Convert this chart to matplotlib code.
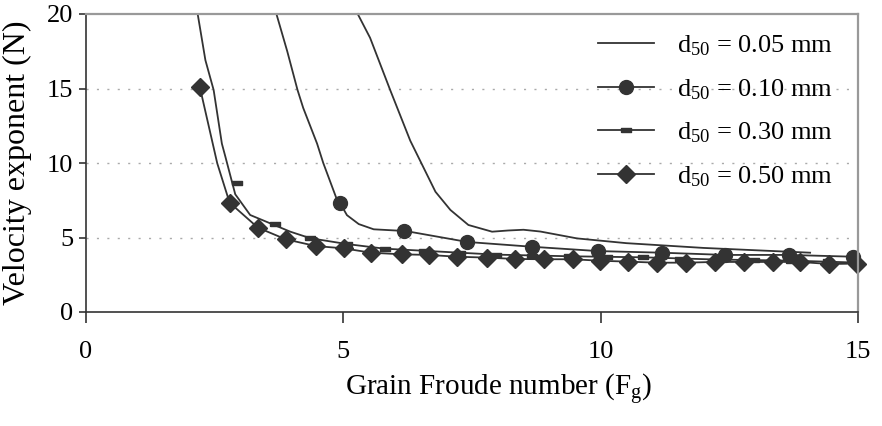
import matplotlib.pyplot as plt
from matplotlib.lines import Line2D

plt.rcParams['font.family'] = ['Liberation Serif', 'DejaVu Serif']
plt.rcParams['mathtext.fontset'] = 'custom'
plt.rcParams['mathtext.rm'] = 'Liberation Serif'
plt.rcParams['mathtext.it'] = 'Liberation Serif'
plt.rcParams['mathtext.default'] = 'rm'

# d50 = 0.05 mm (line only)
x05 = [5.28, 5.52, 5.91, 6.30, 6.79, 7.08, 7.43, 7.89, 8.20, 8.50, 8.83, 9.54, 10.50, 12.00, 14.07]
y05 = [20.0, 18.4, 14.9, 11.5, 8.07, 6.85, 5.84, 5.39, 5.47, 5.52, 5.40, 4.94, 4.62, 4.30, 3.98]

# d50 = 0.10 mm
x10 = [3.70, 3.91, 4.11, 4.22, 4.49, 4.61, 4.88, 4.94, 5.07, 5.30, 5.59, 6.07, 6.17, 7.41, 8.66, 9.94,
       11.19, 12.42, 13.66, 14.91]
y10 = [20.0, 17.5, 14.9, 13.7, 11.3, 10.0, 7.5, 7.29, 6.5, 5.9, 5.55, 5.46, 5.46, 4.70, 4.38, 4.09,
       3.98, 3.83, 3.83, 3.71]
mx10 = [4.94, 6.17, 7.41, 8.66, 9.94, 11.19, 12.42, 13.66, 14.91]
my10 = [7.29, 5.46, 4.70, 4.38, 4.09, 3.98, 3.83, 3.83, 3.71]

# d50 = 0.30 mm
x30 = [2.17, 2.32, 2.48, 2.64, 2.71, 2.81, 2.90, 3.19, 3.58, 3.97, 4.36, 5.07, 5.80, 6.56, 7.97, 9.40, 10.83, 12.26, 13.69, 14.95]
y30 = [20.0, 16.9, 14.9, 11.3, 10.4, 9.08, 7.9, 6.51, 5.95, 5.39, 4.95, 4.56, 4.25, 4.11, 3.85, 3.74, 3.67, 3.52, 3.45, 3.32]
mx30 = [2.94, 3.67, 4.36, 5.07, 5.80, 6.56, 7.27, 7.97, 8.66, 9.39, 10.12, 10.83, 11.54, 12.26, 12.97, 13.69, 14.41]
my30 = [8.64, 5.91, 4.95, 4.55, 4.25, 4.11, 3.95, 3.85, 3.78, 3.74, 3.70, 3.67, 3.56, 3.52, 3.48, 3.45, 3.42]

# d50 = 0.50 mm
x50 = [2.21, 2.55, 2.79, 3.34, 3.88, 4.46, 5.01, 5.54, 6.14, 6.66, 7.21, 7.79, 8.34, 8.89, 9.46, 9.99,
       10.54, 11.09, 11.65, 12.22, 12.79, 13.34, 13.87, 14.44, 14.99]
y50 = [15.12, 9.98, 7.34, 5.66, 4.88, 4.43, 4.27, 3.98, 3.87, 3.83, 3.71, 3.65, 3.56, 3.54, 3.54, 3.44,
       3.38, 3.31, 3.31, 3.36, 3.36, 3.36, 3.36, 3.22, 3.25]
mx50 = x50[:1] + x50[2:]
my50 = y50[:1] + y50[2:]

labels = ['d$_{50}$ = 0.05 mm', 'd$_{50}$ = 0.10 mm', 'd$_{50}$ = 0.30 mm', 'd$_{50}$ = 0.50 mm']

dark = '#333333'
lw = 1.3
dash = [(-1, -0.4), (1, -0.4), (1, 0.4), (-1, 0.4), (-1, -0.4)]

fig = plt.figure(figsize=(8.82, 4.26), dpi=100)
ax = fig.add_axes([86 / 882, 1 - 312 / 426, 772 / 882, 298 / 426])

ax.plot(x05, y05, color=dark, lw=lw, clip_on=False)
ax.plot(x10, y10, color=dark, lw=lw, clip_on=False)
ax.plot(mx10, my10, ls='none', marker='o', ms=10, color=dark, clip_on=False)
ax.plot(x30, y30, color=dark, lw=lw, clip_on=False)
ax.plot(mx30, my30, ls='none', marker=dash, ms=7, color=dark, clip_on=False)
ax.plot(x50, y50, color=dark, lw=lw, clip_on=False)
ax.plot(mx50, my50, ls='none', marker='D', ms=9, color=dark, clip_on=False)

ax.set_xlim(0, 15)
ax.set_ylim(0, 20)
ax.set_xticks([0, 5, 10, 15])
ax.set_yticks([0, 5, 10, 15, 20])

for y in [5, 10, 15]:
    ax.axhline(y, color='#aaaaaa', lw=1, ls=(0, (1.5, 6)), zorder=0)

for s in ['top', 'right']:
    ax.spines[s].set_color('#999999')
    ax.spines[s].set_linewidth(1.6)
for s in ['left', 'bottom']:
    ax.spines[s].set_color(dark)
    ax.spines[s].set_linewidth(1.2)

ax.tick_params(axis='y', direction='out', length=5, width=1.2, color=dark, pad=4, labelsize=19)
ax.tick_params(axis='x', direction='out', length=8, width=1.2, color=dark, pad=13, labelsize=19)

ax.set_xlabel('Grain Froude number (F$_{g}$)', fontsize=21)
ax.xaxis.set_label_coords(0.534, -0.2)
ax.set_ylabel('Velocity exponent (N)', fontsize=23)
ax.yaxis.set_label_coords(-0.07, 0.5)

handles = [
    Line2D([], [], color=dark, lw=lw),
    Line2D([], [], color=dark, lw=lw, marker='o', ms=10),
    Line2D([], [], color=dark, lw=lw, marker=dash, ms=7),
    Line2D([], [], color=dark, lw=lw, marker='D', ms=9),
]
ax.legend(handles, labels, loc='upper right', bbox_to_anchor=(0.968, 0.935), frameon=False,
          fontsize=19, handlelength=2.1, handletextpad=0.9, labelspacing=0.72,
          borderpad=0, borderaxespad=0)

fig.savefig('out.png', dpi=100)
